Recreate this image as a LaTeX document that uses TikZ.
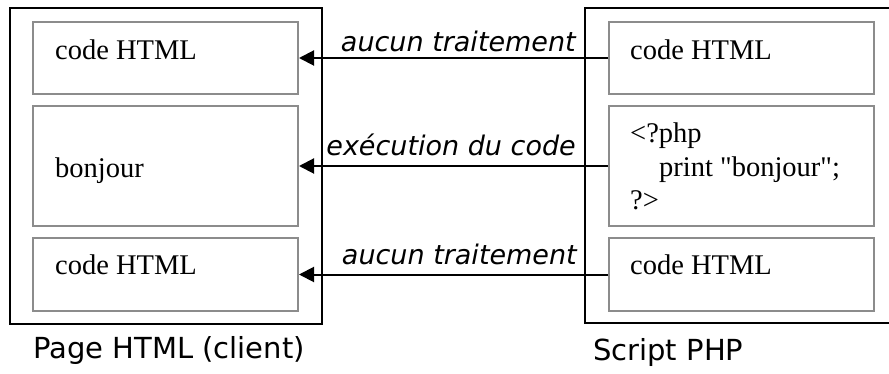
\documentclass[tikz,border=0pt]{standalone}
\usepackage{fontspec}
\setmainfont{Liberation Serif}[Ligatures=TeXOff]
\newfontfamily\comicfont{DejaVu Sans}
\usetikzlibrary{arrows.meta}
\definecolor{boxgray}{HTML}{8C8C8C}
\begin{document}
\begin{tikzpicture}[x=1pt,y=-1pt,
  outerbox/.style={draw=black,line width=2pt,inner sep=0pt,minimum width=#1},
  cellbox/.style={draw=boxgray,line width=2pt,inner sep=0pt,minimum width=265pt},
  celltext/.style={anchor=base west,inner sep=0pt,font=\fontsize{28.5}{33}\selectfont},
  arrlabel/.style={anchor=base east,inner sep=0pt,font=\comicfont\itshape\fontsize{27}{32}\selectfont},
  caption/.style={anchor=base west,inner sep=0pt,font=\comicfont\fontsize{29}{34}\selectfont},
  flow/.style={draw=black,line width=2pt,-{Triangle[length=15pt,width=15pt]}}
]
\clip (0,0) rectangle (889,374);
\fill[white] (0,0) rectangle (889,374);
% outer boxes
\node[outerbox=312pt,minimum height=316pt] (client) at (166,166) {};
\node[outerbox=320pt,minimum height=315pt] (server) at (745,165.5) {};
% left cells
\node[cellbox,minimum height=72pt] (l1) at (165.5,58) {};
\node[cellbox,minimum height=120pt] (l2) at (165.5,166) {};
\node[cellbox,minimum height=73pt] (l3) at (165.5,274.5) {};
% right cells
\node[cellbox,minimum height=72pt] (r1) at (741.5,58) {};
\node[cellbox,minimum height=120pt] (r2) at (741.5,166) {};
\node[cellbox,minimum height=73pt] (r3) at (741.5,274.5) {};
% cell texts
\node[celltext] (t1) at (55,60) {code HTML};
\node[celltext] (t2) at (55,178) {bonjour};
\node[celltext] (t3) at (55,275) {code HTML};
\node[celltext] (u1) at (630,60) {code HTML};
\node[celltext] (u2a) at (630,143) {<?php};
\node[celltext] (u2b) at (659,177) {print "bonjour";};
\node[celltext] (u2c) at (630,210) {?>};
\node[celltext] (u3) at (630,275) {code HTML};
% arrows
\draw[flow] (r1.west) -- (l1.east);
\draw[flow] (r2.west) -- (l2.east);
\draw[flow] (r3.west) -- (l3.east);
% arrow labels
\node[arrlabel] (a1) at (576,52) {aucun traitement};
\node[arrlabel] (a2) at (576,156) {exécution du code};
\node[arrlabel] (a3) at (577,265) {aucun traitement};
% captions
\node[caption] (c1) at (33,358) {Page HTML (client)};
\node[caption] (c2) at (593,360) {Script PHP};
\end{tikzpicture}
\end{document}
